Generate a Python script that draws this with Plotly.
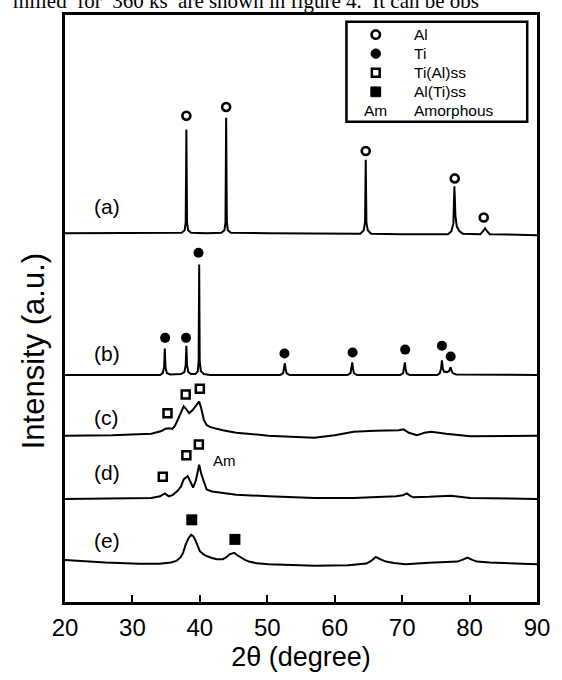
import plotly.graph_objects as go

# ---------------- data (2theta in degree, intensity in a.u.) ----------------
a_x = [20.0, 30.0, 36.0, 37.3, 37.75, 37.9, 38.0, 38.1, 38.25, 38.7, 41.0, 43.2, 43.65, 43.8, 43.9, 44.0, 44.15,
       44.6, 50.0, 60.0, 63.8, 64.3, 64.5, 64.6, 64.7, 64.9, 65.4, 70.0, 76.8, 77.3, 77.6, 77.75, 77.9, 78.1,
       78.5, 79.0, 81.6, 82.0, 82.3, 82.6, 83.0, 90.0]
a_y = [377, 377, 377, 377.5, 380, 388, 483, 388, 380, 377.5, 377, 377.5, 380, 388, 495, 388, 380,
       377.5, 377, 376.5, 376.5, 380, 388, 452, 388, 380, 376.5, 376, 376, 379, 387, 425, 395, 384,
       379, 376.5, 376, 379, 382, 379, 376, 375]

b_x = [20.0, 30.0, 34.1, 34.5, 34.7, 34.8, 34.9, 35.1, 35.6, 37.2, 37.7, 37.9, 38.0, 38.1, 38.3, 38.7,
       39.35, 39.7, 39.82, 39.9, 39.98, 40.15, 40.6, 41.5, 45.0, 51.9, 52.35, 52.5, 52.6, 52.7, 52.85, 53.3,
       58.0, 61.9, 62.35, 62.5, 62.6, 62.7, 62.85, 63.3, 67.0, 69.7, 70.15, 70.3, 70.4, 70.5, 70.65, 71.1,
       74.0, 75.2, 75.6, 75.78, 75.9, 76.02, 76.2, 76.6, 76.95, 77.1, 77.2, 77.3, 77.5, 78.0, 84.0, 90.0]
b_y = [232, 232, 232, 234, 240, 259, 240, 234, 232.5, 233, 235, 242, 262, 242, 235, 233,
       233, 236, 246, 345, 246, 236, 233, 232, 232, 232, 234, 239, 244, 239, 234, 232,
       232, 232, 234, 239, 245, 239, 234, 232, 232, 232, 234, 239, 245, 239, 234, 232,
       232, 232, 234, 239, 247, 239, 235.5, 235, 236, 238, 240, 237, 234, 232.5, 232, 232]

c_x = [20.0, 27.0, 32.8, 34.2, 34.9, 35.4, 35.9, 36.3, 36.9, 37.3, 37.6, 38.0, 38.4, 38.9, 39.4, 39.9,
       40.2, 40.6, 41.0, 41.5, 42.5, 43.4, 45.4, 47.5, 50.2, 53.5, 57.0, 60.0, 62.8, 66.0, 69.5, 70.2,
       71.0, 72.2, 73.3, 74.3, 76.5, 80.1, 85.0, 90.0]
c_y = [170, 170.5, 172, 174.5, 177, 177.5, 177, 180, 189, 196, 200, 197, 193, 196, 201, 205,
       198, 186, 181, 179, 177, 175.5, 173, 171.5, 170, 169, 168, 170.5, 174, 175, 175.5, 176.5,
       173, 170.5, 173, 174, 172, 169.5, 169.5, 170]

d_x = [20.0, 27.0, 32.8, 34.1, 34.5, 34.8, 35.1, 35.4, 36.0, 36.7, 37.2, 37.6, 38.2, 38.6, 39.0, 39.4,
       39.9, 40.2, 40.5, 41.0, 41.8, 42.9, 45.4, 50.2, 57.0, 62.8, 66.0, 69.1, 70.1, 70.7, 71.2, 71.7,
       74.0, 77.2, 80.1, 85.0, 90.0]
d_y = [105.3, 105.5, 106.3, 108, 110, 111, 109.5, 108, 109.5, 113.7, 118, 125.3, 128.7, 123, 117, 124,
       140.3, 131, 124, 115, 113, 112, 109.7, 108, 106.3, 106.3, 107, 108, 109, 111, 108.5, 107,
       107.5, 108.7, 106.3, 105.5, 105.3]

e_x = [20.0, 23.0, 26.0, 31.0, 34.0, 35.7, 36.5, 37.1, 37.5, 37.9, 38.3, 38.7, 39.0, 39.3, 39.7, 40.0,
       40.5, 41.0, 41.8, 42.5, 43.4, 43.9, 44.4, 44.8, 45.1, 45.5, 46.1, 46.7, 47.3, 48.5, 50.2, 57.0,
       62.0, 64.7, 65.4, 66.1, 66.8, 67.6, 68.8, 70.5, 74.0, 78.2, 79.0, 79.7, 80.4, 81.1, 83.0, 85.0, 90.0]
e_y = [43, 41.5, 40.3, 39, 39, 40.3, 42, 45.3, 50, 58.7, 65, 68.7, 67.5, 63.7, 57, 52,
       49, 47, 45, 43.7, 43.7, 45.5, 48.7, 50, 50.3, 48, 45.3, 43, 41.3, 39.5, 38.7, 37,
       37.5, 39.3, 42, 46, 43.5, 41.3, 39.8, 38.7, 40, 41.3, 43.3, 45.3, 43, 41.3, 40.3, 39.7, 38.7]

# phase markers
al_x = [38.0, 43.9, 64.6, 77.8, 82.1]
al_y = [497, 506, 461, 433, 393]
ti_x = [34.85, 37.95, 39.8, 52.55, 62.65, 70.45, 75.9, 77.2]
ti_y = [270, 270, 357, 254, 255, 258, 262, 251]
tiss_x = [35.2, 37.9, 40.0, 34.5, 38.0, 39.85]
tiss_y = [193, 212, 218, 128, 150, 161]
alss_x = [38.8, 45.2]
alss_y = [84, 64]
am_x, am_y = 43.7, 145

curve_labels = ["(a)", "(b)", "(c)", "(d)", "(e)"]
label_y = [404, 254, 189, 132, 63]
label_x = 26.2

tick_vals = [20, 30, 40, 50, 60, 70, 80, 90]
legend_names = ["Al", "Ti", "Ti(Al)ss", "Al(Ti)ss", "Amorphous"]

# ---------------- layout helpers (pixel -> paper) ----------------
W, H = 562, 680
ML, MR, MT, MB = 65, 14, 12, 68
PW, PH = W - ML - MR, H - MT - MB


def px(xp):
    return (xp - ML) / PW


def py(yp):
    return (H - MB - yp) / PH


FONT = "Liberation Sans, Arial, sans-serif"
fig = go.Figure()

for xs, ys in [(a_x, a_y), (b_x, b_y), (c_x, c_y), (d_x, d_y), (e_x, e_y)]:
    fig.add_trace(go.Scatter(x=xs, y=ys, mode="lines", line=dict(color="black", width=2),
                             showlegend=False, hoverinfo="skip"))

fig.add_trace(go.Scatter(x=al_x, y=al_y, mode="markers", name="Al", showlegend=False,
                         marker=dict(symbol="circle-open", size=8, color="black", line=dict(width=2.6, color="black"))))
fig.add_trace(go.Scatter(x=ti_x, y=ti_y, mode="markers", name="Ti", showlegend=False,
                         marker=dict(symbol="circle", size=10, color="black")))
fig.add_trace(go.Scatter(x=tiss_x, y=tiss_y, mode="markers", name="Ti(Al)ss", showlegend=False,
                         marker=dict(symbol="square-open", size=8, color="black", line=dict(width=2.5, color="black"))))
fig.add_trace(go.Scatter(x=alss_x, y=alss_y, mode="markers", name="Al(Ti)ss", showlegend=False,
                         marker=dict(symbol="square", size=11, color="black")))

annotations = []
for t, yv in zip(curve_labels, label_y):
    annotations.append(dict(x=label_x, y=yv, xref="x", yref="y", text=t, showarrow=False,
                            font=dict(family=FONT, size=21, color="black")))
annotations.append(dict(x=am_x, y=am_y, xref="x", yref="y", text="Am", showarrow=False,
                        font=dict(family=FONT, size=15, color="black")))

# legend box (manual)
shapes = [dict(type="rect", xref="paper", yref="paper", x0=px(353), x1=px(538), y0=py(121), y1=py(19),
               line=dict(color="black", width=2.5), fillcolor="white", layer="above")]
sym_x = 383
rows = [32, 51.5, 71, 90.5, 110]
r = 4.3
shapes.append(dict(type="circle", xref="paper", yref="paper", x0=px(sym_x - r), x1=px(sym_x + r),
                   y0=py(rows[0] + r), y1=py(rows[0] - r), line=dict(color="black", width=2.6), layer="above"))
shapes.append(dict(type="circle", xref="paper", yref="paper", x0=px(sym_x - 4.8), x1=px(sym_x + 4.8),
                   y0=py(rows[1] + 4.8), y1=py(rows[1] - 4.8), line=dict(color="black", width=1),
                   fillcolor="black", layer="above"))
shapes.append(dict(type="rect", xref="paper", yref="paper", x0=px(sym_x - 4), x1=px(sym_x + 4),
                   y0=py(rows[2] + 4), y1=py(rows[2] - 4), line=dict(color="black", width=2.5), layer="above"))
shapes.append(dict(type="rect", xref="paper", yref="paper", x0=px(sym_x - 5), x1=px(sym_x + 5),
                   y0=py(rows[3] + 5), y1=py(rows[3] - 5), line=dict(color="black", width=1),
                   fillcolor="black", layer="above"))
annotations.append(dict(x=px(sym_x), y=py(rows[4]), xref="paper", yref="paper", text="Am", showarrow=False,
                        xanchor="center", yanchor="middle", borderpad=0,
                        font=dict(family=FONT, size=15.5, color="black")))
for name, ry in zip(legend_names, rows):
    annotations.append(dict(x=px(421), y=py(ry), xref="paper", yref="paper", text=name, showarrow=False,
                            xanchor="left", yanchor="middle", borderpad=0,
                            font=dict(family=FONT, size=15.5, color="black")))

# y-axis title
annotations.append(dict(x=px(33), y=py(356), xref="paper", yref="paper", text="Intensity (a.u.)",
                        textangle=-90, showarrow=False, xanchor="center", yanchor="middle",
                        font=dict(family=FONT, size=31, color="black")))
# cropped line of body text above the figure
annotations.append(dict(x=px(10), y=py(12), xref="paper", yref="paper",
                        text="milled\u00a0 for\u00a0 360 ks\u00a0 are shown in figure 4.\u00a0 It can be obs",
                        showarrow=False, xanchor="left", yanchor="bottom",
                        font=dict(family="Liberation Serif, Times New Roman, serif", size=21, color="black")))

fig.update_layout(
    width=W, height=H,
    margin=dict(l=ML, r=MR, t=MT, b=MB, pad=0),
    paper_bgcolor="white", plot_bgcolor="white",
    showlegend=False,
    annotations=annotations,
    shapes=shapes,
    xaxis=dict(range=[20, 90], tickvals=tick_vals, ticktext=[str(v) for v in tick_vals],
               ticks="inside", ticklen=7, tickwidth=1.5, tickcolor="black",
               showline=True, mirror=True, linewidth=3, linecolor="black",
               showgrid=False, zeroline=False, ticklabelstandoff=2,
               tickfont=dict(family=FONT, size=24, color="black"),
               title=dict(text="2θ (degree)", font=dict(family=FONT, size=27, color="black"), standoff=8)),
    yaxis=dict(range=[0, 600], showticklabels=False, ticks="",
               showline=True, mirror=True, linewidth=3, linecolor="black",
               showgrid=False, zeroline=False),
)

fig.write_html("out.html")
